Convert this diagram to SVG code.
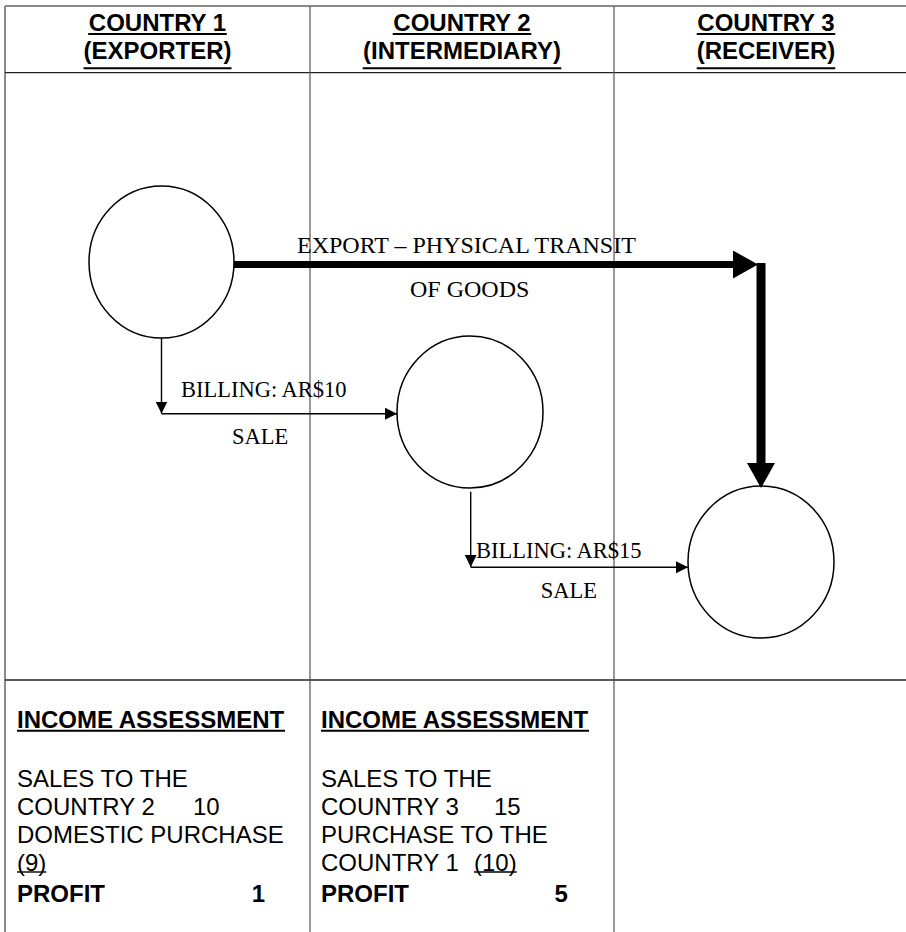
<svg xmlns="http://www.w3.org/2000/svg" width="906" height="932" viewBox="0 0 906 932">
  <style>
    .frame { stroke: #8a8a8a; stroke-width: 2; fill: none; }
    .rule { stroke: #222; stroke-width: 1.3; fill: none; }
    .col { stroke: #555; stroke-width: 1.2; fill: none; }
    .node { fill: #fff; stroke: #000; stroke-width: 1.5; }
    .thin { stroke: #000; stroke-width: 1.4; fill: none; }
    .thick { stroke: #000; fill: none; }
    .ul { stroke: #000; stroke-width: 2; fill: none; }
    .ul-thin { stroke: #000; stroke-width: 1.4; fill: none; }
    .head { font-family: "Liberation Sans", Arial, sans-serif; font-size: 24px; font-weight: bold; text-anchor: middle; fill: #000; }
    .lbl { font-family: "Liberation Serif", "Times New Roman", serif; font-size: 22.5px; fill: #000; }
    .big { font-size: 24px; }
    .body { font-family: "Liberation Sans", Arial, sans-serif; font-size: 24px; fill: #000; }
    .b { font-weight: bold; }
  </style>
  <defs>
    <marker id="arrow" markerUnits="userSpaceOnUse" markerWidth="12" markerHeight="12" refX="12" refY="6" orient="auto">
      <path d="M0,0 L12,6 L0,12 Z" fill="#000"/>
    </marker>
    <marker id="arrow-bold" markerUnits="userSpaceOnUse" markerWidth="26" markerHeight="28" refX="0" refY="14" orient="auto">
      <path d="M0,0 L25,14 L0,28 Z" fill="#000"/>
    </marker>
  </defs>

  <rect width="906" height="932" fill="#fff"/>

  <!-- table grid -->
  <g id="grid">
    <line class="frame" x1="5" y1="6" x2="906" y2="6"/>
    <line class="frame" x1="5" y1="6" x2="5" y2="932"/>
    <line class="rule" x1="5" y1="72.7" x2="906" y2="72.7"/>
    <line class="rule" x1="5" y1="680" x2="906" y2="680"/>
    <line class="col" x1="310" y1="6" x2="310" y2="932"/>
    <line class="col" x1="614" y1="6" x2="614" y2="932"/>
  </g>

  <!-- column headings -->
  <g id="headings">
    <text class="head" x="157.5" y="30.7">COUNTRY 1</text>
    <text class="head" x="157.5" y="59.3">(EXPORTER)</text>
    <text class="head" x="462" y="30.7">COUNTRY 2</text>
    <text class="head" x="462" y="59.3">(INTERMEDIARY)</text>
    <text class="head" x="766" y="30.7">COUNTRY 3</text>
    <text class="head" x="766" y="59.3">(RECEIVER)</text>
    <line class="ul" x1="88.2" y1="34" x2="226.8" y2="34"/>
    <line class="ul" x1="83.5" y1="68.2" x2="231.5" y2="68.2"/>
    <line class="ul" x1="392.7" y1="34" x2="531.3" y2="34"/>
    <line class="ul" x1="362.7" y1="68.2" x2="561.3" y2="68.2"/>
    <line class="ul" x1="696.7" y1="34" x2="835.3" y2="34"/>
    <line class="ul" x1="696.7" y1="68.2" x2="835.3" y2="68.2"/>
  </g>

  <!-- countries -->
  <g id="exporter">
    <ellipse class="node" cx="161.5" cy="262" rx="72.5" ry="76"/>
  </g>
  <g id="intermediary">
    <ellipse class="node" cx="470" cy="412" rx="73" ry="76"/>
  </g>
  <g id="receiver">
    <ellipse class="node" cx="761" cy="562" rx="73" ry="76"/>
  </g>

  <!-- flows -->
  <g id="connectors">
    <path class="thick" d="M234,264.5 H733" stroke-width="7" marker-end="url(#arrow-bold)"/>
    <path class="thick" d="M761,263 V463" stroke-width="9" marker-end="url(#arrow-bold)"/>
    <path class="thin" d="M161.5,338 V413.5" marker-end="url(#arrow)"/>
    <path class="thin" d="M161.5,413.7 H397" marker-end="url(#arrow)"/>
    <path class="thin" d="M470.7,491.7 V567" marker-end="url(#arrow)"/>
    <path class="thin" d="M470.7,567.3 H688" marker-end="url(#arrow)"/>
  </g>

  <!-- flow labels -->
  <g id="flow-labels">
    <text class="lbl big" x="297" y="252.7">EXPORT – PHYSICAL TRANSIT</text>
    <text class="lbl big" x="410" y="296.7">OF GOODS</text>
    <text class="lbl" x="181" y="397">BILLING: AR$10</text>
    <text class="lbl" x="232" y="443.5">SALE</text>
    <text class="lbl" x="476" y="558.3">BILLING: AR$15</text>
    <text class="lbl" x="540.7" y="597.7">SALE</text>
  </g>

  <!-- income assessment, country 1 -->
  <g id="assessment-1">
    <text class="body b" x="17" y="728">INCOME ASSESSMENT</text>
    <line class="ul" x1="17" y1="730.8" x2="285" y2="730.8"/>
    <text class="body" x="17" y="786.7">SALES TO THE</text>
    <text class="body" x="17" y="815">COUNTRY 2</text>
    <text class="body" x="193" y="815">10</text>
    <text class="body" x="17" y="842.7">DOMESTIC PURCHASE</text>
    <text class="body" x="17" y="870.5">(9)</text>
    <line class="ul-thin" x1="17" y1="872" x2="46.3" y2="872"/>
    <text class="body b" x="17" y="901.7">PROFIT</text>
    <text class="body b" x="251.7" y="901.7">1</text>
  </g>

  <!-- income assessment, country 2 -->
  <g id="assessment-2">
    <text class="body b" x="321" y="728">INCOME ASSESSMENT</text>
    <line class="ul" x1="321" y1="730.8" x2="589" y2="730.8"/>
    <text class="body" x="321" y="786.7">SALES TO THE</text>
    <text class="body" x="321" y="815">COUNTRY 3</text>
    <text class="body" x="494" y="815">15</text>
    <text class="body" x="321" y="842.7">PURCHASE TO THE</text>
    <text class="body" x="321" y="870.5">COUNTRY 1</text>
    <text class="body" x="474" y="870.5">(10)</text>
    <line class="ul-thin" x1="474" y1="872" x2="516.7" y2="872"/>
    <text class="body b" x="321" y="901.7">PROFIT</text>
    <text class="body b" x="554.5" y="901.7">5</text>
  </g>
</svg>
